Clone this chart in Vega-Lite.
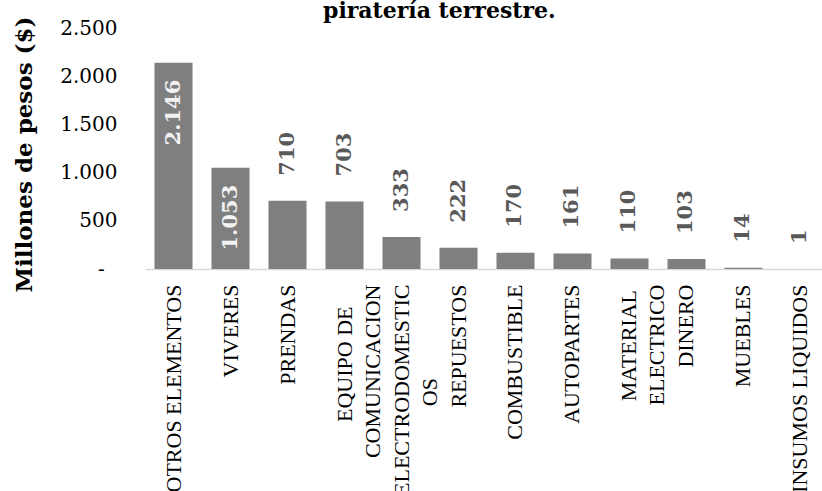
{
  "$schema": "https://vega.github.io/schema/vega-lite/v6.json",
  "autosize": {"type": "none"},
  "width": 684,
  "height": 250,
  "padding": {"left": 145, "top": 19, "right": 0, "bottom": 222},
  "background": "white",
  "config": {
    "locale": {"number": {"decimal": ",", "thousands": ".", "grouping": [3], "currency": ["$", ""]}},
    "view": {"stroke": null}
  },
  "title": {
    "text": "piratería terrestre.",
    "anchor": "start",
    "frame": "group",
    "dx": 178,
    "dy": 24,
    "offset": 0,
    "font": "DejaVu Serif",
    "fontSize": 22,
    "fontWeight": "bold",
    "color": "#000000",
    "baseline": "alphabetic"
  },
  "data": {
    "values": [
      {"categoria": "OTROS ELEMENTOS", "valor": 2146},
      {"categoria": "VIVERES", "valor": 1053},
      {"categoria": "PRENDAS", "valor": 710},
      {"categoria": "EQUIPO DE\nCOMUNICACION", "valor": 703},
      {"categoria": "ELECTRODOMESTIC\nOS", "valor": 333},
      {"categoria": "REPUESTOS", "valor": 222},
      {"categoria": "COMBUSTIBLE", "valor": 170},
      {"categoria": "AUTOPARTES", "valor": 161},
      {"categoria": "MATERIAL\nELECTRICO", "valor": 110},
      {"categoria": "DINERO", "valor": 103},
      {"categoria": "MUEBLES", "valor": 14},
      {"categoria": "INSUMOS LIQUIDOS", "valor": 1}
    ]
  },
  "encoding": {
    "x": {
      "field": "categoria",
      "type": "nominal",
      "sort": null,
      "scale": {"paddingInner": 0.333, "paddingOuter": 0.1667},
      "axis": {
        "title": null,
        "domainColor": "#d9d9d9",
        "domainWidth": 1.5,
        "ticks": false,
        "labelAngle": 270,
        "labelPadding": 15,
        "labelFont": "Liberation Serif",
        "labelFontSize": 22,
        "labelColor": "#000000",
        "labelLimit": 0,
        "labelLineHeight": 28,
        "labelExpr": "length(split(datum.value, '\\n')) < 2 ? datum.value : [pad(split(datum.value, '\\n')[0], length(split(datum.value, '\\n')[0]) + round((max(length(split(datum.value, '\\n')[0]), length(split(datum.value, '\\n')[1])) - length(split(datum.value, '\\n')[0])) * 1.3), '\u00a0') + '\u200b', pad(split(datum.value, '\\n')[1], length(split(datum.value, '\\n')[1]) + round((max(length(split(datum.value, '\\n')[0]), length(split(datum.value, '\\n')[1])) - length(split(datum.value, '\\n')[1])) * 1.3), '\u00a0') + '\u200b']"
      }
    }
  },
  "layer": [
    {
      "mark": {"type": "bar", "color": "#7f7f7f"},
      "encoding": {
        "y": {
          "field": "valor",
          "type": "quantitative",
          "scale": {"domain": [0, 2500]},
          "axis": {
            "title": "Millones de pesos ($)",
            "titleFont": "DejaVu Serif",
            "titleFontSize": 23,
            "titleFontWeight": "bold",
            "titleColor": "#000000",
            "titlePadding": 23,
            "titleY": 135,
            "values": [0, 500, 1000, 1500, 2000, 2500],
            "format": ",.0f",
            "labelExpr": "datum.value == 0 ? '-\u00a0\u00a0\u200b' : datum.label",
            "labelFont": "DejaVu Serif",
            "labelFontSize": 20,
            "labelColor": "#000000",
            "labelPadding": 28,
            "domain": false,
            "ticks": false,
            "grid": false
          }
        }
      }
    },
    {
      "transform": [{"filter": "datum.valor > 1000"}],
      "mark": {
        "type": "text",
        "angle": 270,
        "align": "right",
        "baseline": "middle",
        "dx": -17,
        "font": "DejaVu Serif",
        "fontSize": 21,
        "fontWeight": "bold",
        "color": "#f2f2f2"
      },
      "encoding": {
        "y": {"field": "valor", "type": "quantitative"},
        "text": {"field": "valor", "type": "quantitative", "format": ",.0f"}
      }
    },
    {
      "transform": [{"filter": "datum.valor <= 1000"}],
      "mark": {
        "type": "text",
        "angle": 270,
        "align": "left",
        "baseline": "middle",
        "dx": 25,
        "font": "DejaVu Serif",
        "fontSize": 21,
        "fontWeight": "bold",
        "color": "#595959"
      },
      "encoding": {
        "y": {"field": "valor", "type": "quantitative"},
        "text": {"field": "valor", "type": "quantitative", "format": ",.0f"}
      }
    }
  ]
}
